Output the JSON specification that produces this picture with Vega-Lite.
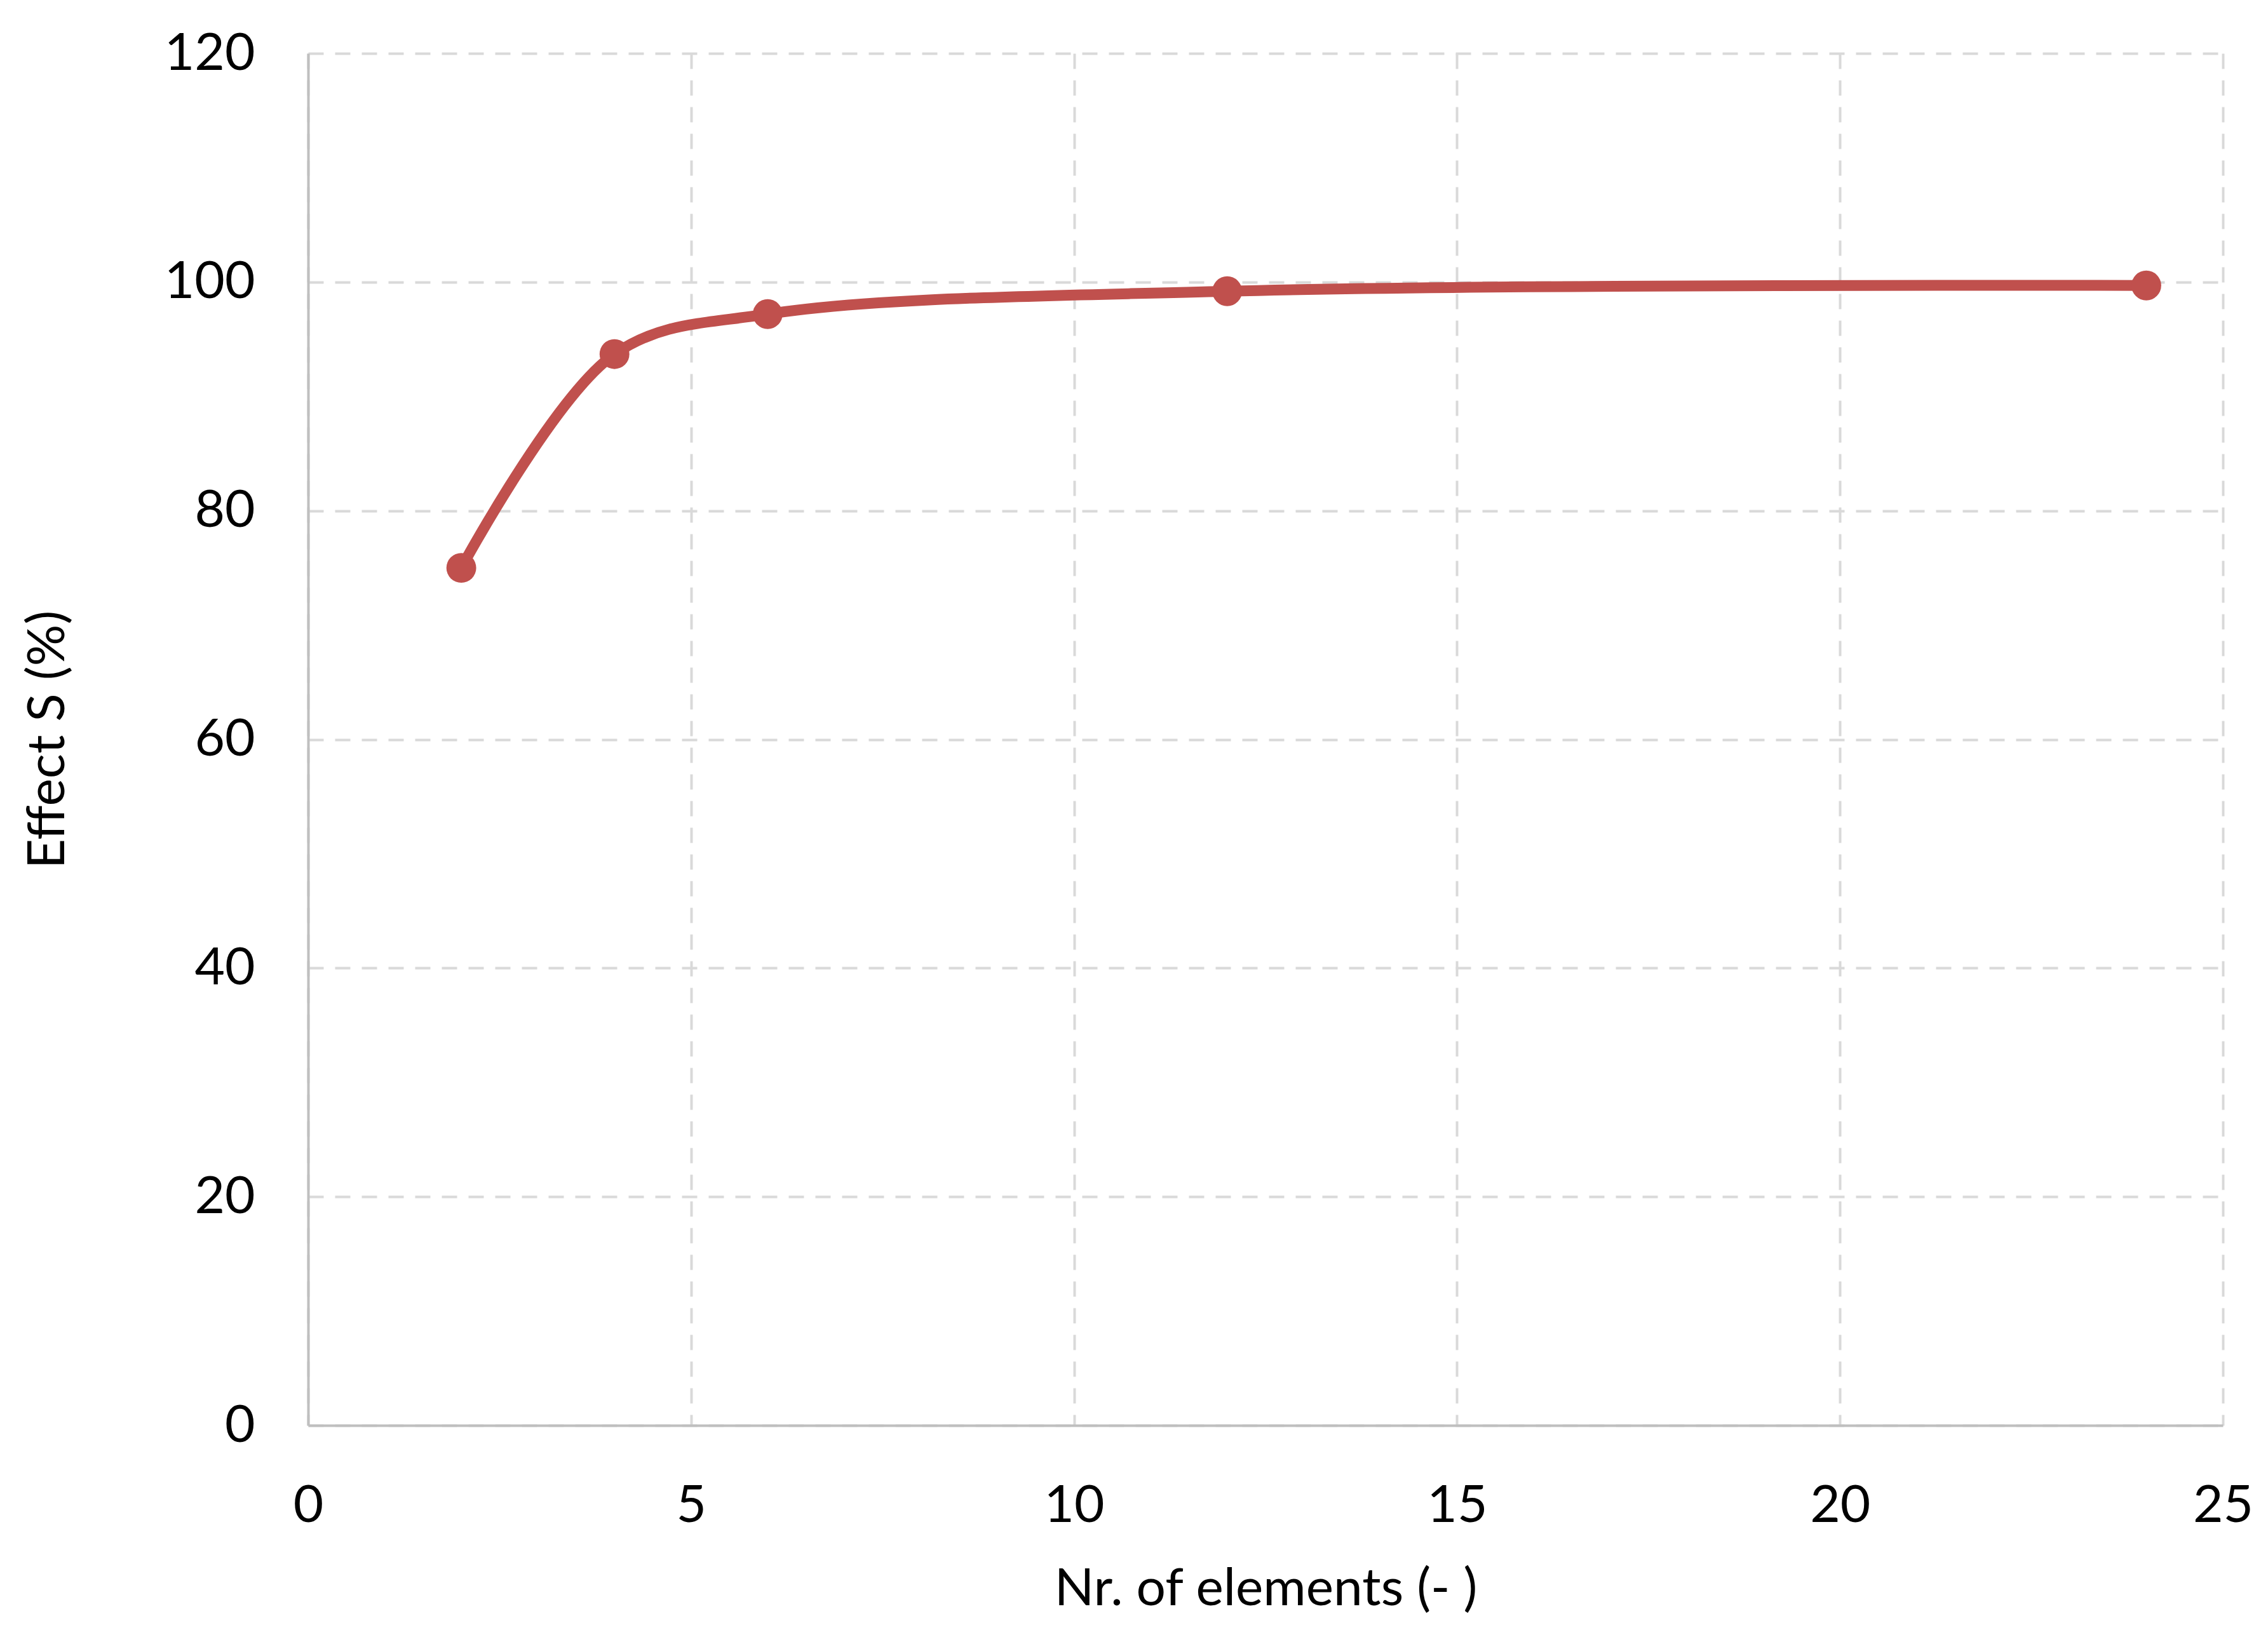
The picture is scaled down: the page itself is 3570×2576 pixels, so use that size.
{
  "$schema": "https://vega.github.io/schema/vega-lite/v6.json",
  "autosize": "none",
  "width": 3014,
  "height": 2159,
  "padding": {"left": 485, "top": 84, "right": 71, "bottom": 333},
  "background": "white",
  "data": {
    "values": [
      {"n": 2, "s": 75.0},
      {"n": 4, "s": 93.7},
      {"n": 6, "s": 97.2},
      {"n": 12, "s": 99.2},
      {"n": 24, "s": 99.7}
    ]
  },
  "config": {
    "view": {"stroke": null},
    "font": "Lato",
    "axis": {
      "labelFont": "Lato",
      "titleFont": "Lato",
      "labelFontSize": 82,
      "titleFontSize": 82,
      "labelColor": "#000000",
      "titleColor": "#000000",
      "labelFontWeight": "normal",
      "titleFontWeight": "normal",
      "ticks": false,
      "domainColor": "#BFBFBF",
      "domainWidth": 4,
      "gridColor": "#D9D9D9",
      "gridWidth": 4,
      "gridDash": [24, 18]
    }
  },
  "layer": [
    {
      "mark": {"type": "line", "interpolate": "catmull-rom", "color": "#C0504D", "strokeWidth": 17, "strokeCap": "round"},
      "encoding": {
        "x": {
          "field": "n", "type": "quantitative",
          "scale": {"domain": [0, 25], "nice": false, "zero": true},
          "axis": {"values": [0, 5, 10, 15, 20, 25], "format": "d", "title": "Nr. of elements (- )", "labelPadding": 86, "titlePadding": 50, "labelFlush": false}
        },
        "y": {
          "field": "s", "type": "quantitative",
          "scale": {"domain": [0, 120], "nice": false},
          "axis": {"values": [0, 20, 40, 60, 80, 100, 120], "format": "d", "title": "Effect S (%)", "labelPadding": 84, "titlePadding": 168, "labelFlush": false}
        }
      }
    },
    {
      "mark": {"type": "point", "filled": true, "shape": "circle", "size": 2200, "color": "#C0504D", "opacity": 1},
      "encoding": {
        "x": {"field": "n", "type": "quantitative"},
        "y": {"field": "s", "type": "quantitative"}
      }
    }
  ]
}
